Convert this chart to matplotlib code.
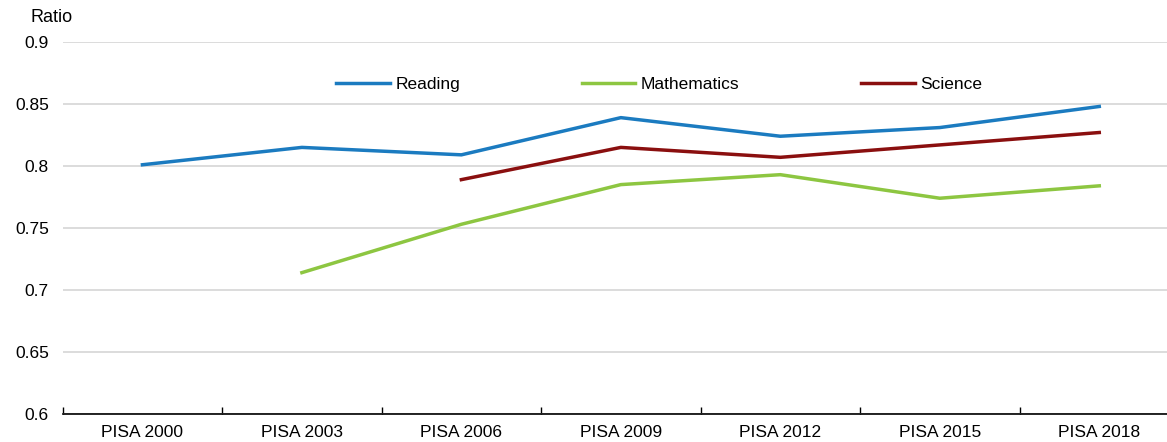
import matplotlib.pyplot as plt
import numpy as np

plt.rcParams['font.family'] = ['Liberation Sans', 'DejaVu Sans']

# ── Data ──────────────────────────────────────────────────────
waves = ['PISA 2000', 'PISA 2003', 'PISA 2006', 'PISA 2009',
         'PISA 2012', 'PISA 2015', 'PISA 2018']
reading     = [0.801, 0.815, 0.809, 0.839, 0.824, 0.831, 0.848]
mathematics = [np.nan, 0.714, 0.753, 0.785, 0.793, 0.774, 0.784]
science     = [np.nan, np.nan, 0.789, 0.815, 0.807, 0.817, 0.827]

yticks = [0.6, 0.65, 0.7, 0.75, 0.8, 0.85, 0.9]
ytick_labels = ['0.6', '0.65', '0.7', '0.75', '0.8', '0.85', '0.9']

BLUE, GREEN, RED = '#1b7bc0', '#8dc641', '#8a0f0f'

W, H = 1167, 442
fig = plt.figure(figsize=(W / 100, H / 100), dpi=100)
ax = fig.add_axes([62.7 / W, 28 / H, 1 - 62.7 / W, 372 / H])

x = np.arange(len(waves))
ax.plot(x, reading,     color=BLUE,  lw=2.5, label='Reading', zorder=3)
ax.plot(x, mathematics, color=GREEN, lw=2.5, label='Mathematics', zorder=3)
ax.plot(x, science,     color=RED,   lw=2.5, label='Science', zorder=3)

ax.set_ylim(0.6, 0.9)
ax.set_xlim(-0.5, 6.5 - 12 / 159.5)
ax.set_yticks(yticks)
ax.set_yticklabels(ytick_labels, fontsize=12.5)
ax.set_xticks(x)
ax.set_xticklabels(waves, fontsize=12.5)
ax.set_xticks(np.arange(-0.5, 6.0, 1.0), minor=True)
ax.tick_params(axis='x', which='major', length=0, pad=8)
ax.tick_params(axis='x', which='minor', direction='in', length=5, width=1, color='black')
ax.tick_params(axis='y', length=0, pad=10)

ax.yaxis.grid(True, color='#d9d9d9', lw=1.3, zorder=0)
for s in ['top', 'right', 'left']:
    ax.spines[s].set_visible(False)
ax.spines['bottom'].set_color('black')
ax.spines['bottom'].set_linewidth(1.2)
ax.spines['bottom'].set_zorder(4)

ax.legend(loc='center', bbox_to_anchor=(0.54, 0.887), ncol=3, frameon=False,
          fontsize=12.5, handlelength=3.1, handletextpad=0.3, columnspacing=7.0)

fig.text(30 / W, 1 - 18 / H, 'Ratio', fontsize=13, va='center', ha='left')

fig.savefig('out.png', dpi=100)
